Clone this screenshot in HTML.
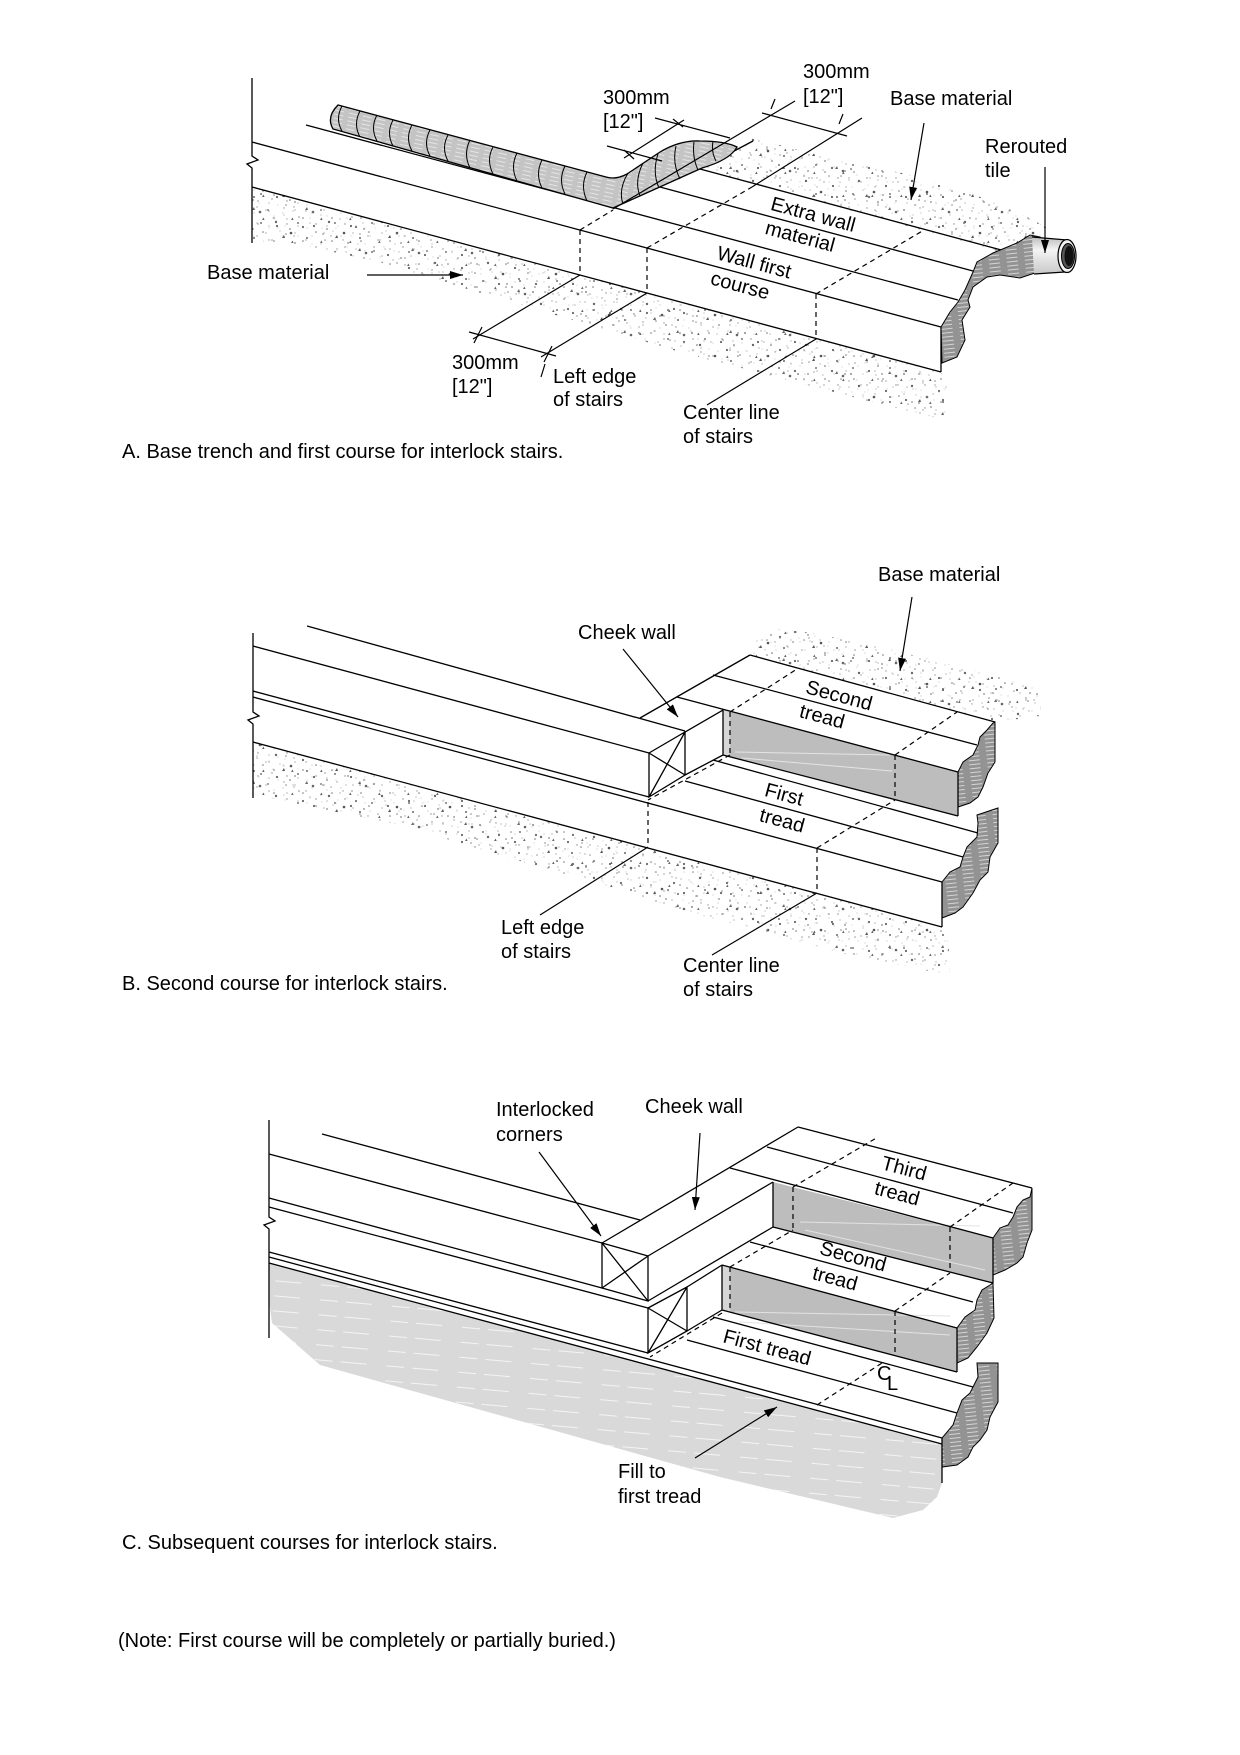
<!DOCTYPE html>
<html><head><meta charset="utf-8">
<style>
html,body{margin:0;padding:0;background:#fff;}
svg{display:block;}
text{font-family:"Liberation Sans",Arial,sans-serif;font-size:20px;fill:#000;}
</style></head><body>
<svg width="1240" height="1755" viewBox="0 0 1240 1755" xmlns="http://www.w3.org/2000/svg">
<defs>
<pattern id="g1" width="53" height="41" patternUnits="userSpaceOnUse">
<circle cx="3" cy="5" r="0.9" fill="#666"/><circle cx="11" cy="17" r="1.2" fill="#666"/>
<circle cx="19" cy="3" r="0.7" fill="#999"/><circle cx="26" cy="28" r="1.3" fill="#555"/>
<circle cx="34" cy="12" r="0.8" fill="#888"/><circle cx="42" cy="33" r="1" fill="#666"/>
<circle cx="48" cy="7" r="1.3" fill="#666"/><circle cx="7" cy="35" r="0.8" fill="#999"/>
<circle cx="15" cy="26" r="0.6" fill="#aaa"/><circle cx="30" cy="38" r="0.9" fill="#888"/>
<circle cx="38" cy="22" r="1.1" fill="#666"/><circle cx="22" cy="14" r="0.7" fill="#aaa"/>
<circle cx="45" cy="18" r="0.6" fill="#999"/><circle cx="9" cy="11" r="0.5" fill="#aaa"/>
<circle cx="51" cy="27" r="0.8" fill="#777"/><circle cx="28" cy="6" r="0.6" fill="#999"/>
<circle cx="4" cy="23" r="0.5" fill="#bbb"/><circle cx="33" cy="31" r="0.5" fill="#bbb"/>
<circle cx="47" cy="39" r="0.5" fill="#bbb"/><circle cx="20" cy="21" r="0.5" fill="#bbb"/>
<path d="M17,33 l2,-3 l1,3z" fill="#555"/><path d="M40,5 l2,-3 l1,3z" fill="#666"/>
</pattern>
<pattern id="g2" width="37" height="29" patternUnits="userSpaceOnUse">
<circle cx="2" cy="20" r="1" fill="#777"/><circle cx="10" cy="8" r="0.7" fill="#999"/>
<circle cx="18" cy="23" r="1.1" fill="#666"/><circle cx="25" cy="12" r="0.6" fill="#aaa"/>
<circle cx="31" cy="26" r="0.9" fill="#888"/><circle cx="35" cy="4" r="0.7" fill="#999"/>
<circle cx="14" cy="15" r="0.5" fill="#aaa"/><circle cx="27" cy="2" r="0.8" fill="#888"/>
</pattern>
<pattern id="g3" width="29" height="23" patternUnits="userSpaceOnUse">
<circle cx="5" cy="3" r="0.6" fill="#888"/><circle cx="13" cy="11" r="0.8" fill="#777"/>
<circle cx="22" cy="6" r="0.5" fill="#999"/><circle cx="26" cy="17" r="0.7" fill="#888"/>
<circle cx="8" cy="19" r="0.6" fill="#999"/><circle cx="17" cy="21" r="0.5" fill="#aaa"/>
<path d="M1,13 l1.5,-2.5 l1,2.5z" fill="#666"/>
</pattern>
<pattern id="st" width="18" height="4" patternUnits="userSpaceOnUse" patternTransform="rotate(-6)">
<rect width="18" height="4" fill="#939393"/><line x1="2" y1="2" x2="13" y2="2" stroke="#dcdcdc" stroke-width="0.9"/>
</pattern>
<pattern id="tp" width="14" height="4" patternUnits="userSpaceOnUse" patternTransform="rotate(12)">
<rect width="14" height="4" fill="#c4c4c4"/><line x1="1" y1="2" x2="10" y2="2" stroke="#ededed" stroke-width="0.8"/>
</pattern>
<pattern id="fp" width="72" height="15" patternUnits="userSpaceOnUse" patternTransform="rotate(5)">
<rect width="72" height="15" fill="#d9d9d9"/>
<line x1="0" y1="7" x2="18" y2="7" stroke="#f4f4f4" stroke-width="1"/>
<line x1="26" y1="7" x2="52" y2="7" stroke="#f4f4f4" stroke-width="1"/>
</pattern>
<linearGradient id="pg" x1="0" y1="0" x2="0" y2="1">
<stop offset="0" stop-color="#bdbdbd"/><stop offset="0.35" stop-color="#f4f4f4"/><stop offset="1" stop-color="#c8c8c8"/>
</linearGradient>
<marker id="ah" viewBox="0 0 13 8" refX="13" refY="4" markerWidth="13" markerHeight="8" markerUnits="userSpaceOnUse" orient="auto">
<path d="M0,0 L13,4 L0,8 z" fill="#000"/>
</marker>
</defs>

<!-- ================= A ================= -->
<g>
<polygon points="252,187 941,372 947,385 945,420 880,404 780,378 680,352 580,322 480,293 380,262 300,245 252,240" fill="url(#g1)"/>
<polygon points="252,187 941,372 947,385 945,420 880,404 780,378 680,352 580,322 480,293 380,262 300,245 252,240" fill="url(#g2)"/>
<polygon points="252,187 941,372 947,385 945,420 880,404 780,378 680,352 580,322 480,293 380,262 300,245 252,240" fill="url(#g3)"/>
<polygon points="700,169 722,155 750,138 800,150 840,161 907,174 973,194 1030,218 1047,228 1040,237 1030,237 1005,253" fill="url(#g1)"/>
<polygon points="700,169 722,155 750,138 800,150 840,161 907,174 973,194 1030,218 1047,228 1040,237 1030,237 1005,253" fill="url(#g2)"/>
<polygon points="700,169 722,155 750,138 800,150 840,161 907,174 973,194 1030,218 1047,228 1040,237 1030,237 1005,253" fill="url(#g3)"/>
</g>
<g stroke="#000" stroke-width="1.3" fill="none">
<path d="M252,78 V156 L258,160 L247,164 L252,168 V243"/>
<path d="M252,142 L941,327 M252,187 L941,372 M306,125 L958,300 M645,183 L973,271 M700,169 L1005,251 M702,168 L753,141 M941,327 V372"/>
</g>
<!-- tile -->
<path d="M338,105 L606,177 Q616,180 627,174 L660,152 Q680,140 700,141 Q725,141 737,147 Q730,160 702,168 L613,208 L333,129 Q326,117 338,105 Z" fill="url(#tp)" stroke="#000" stroke-width="1.3"/>
<g stroke="#000" stroke-width="1" fill="none">
<path d="M342,106 Q335,119 342,131 M360,111 Q353,124 360,137 M377,115 Q370,128 377,141 M393,120 Q386,133 393,146 M412,125 Q405,138 412,151 M430,130 Q423,143 430,156 M448,135 Q441,148 448,161 M470,140 Q463,154 470,168 M493,147 Q486,160 493,174 M517,153 Q510,167 517,181 M542,160 Q535,174 542,188 M565,166 Q558,180 565,194 M587,172 Q580,186 587,201"/>
<path d="M628,173 Q618,190 623,204 M643,163 Q634,181 640,196 M658,154 Q652,172 659,188 M676,146 Q672,163 680,179 M694,142 Q692,157 698,170 M713,141 Q711,152 716,161"/>
</g>
<!-- wavy cut A -->
<polygon points="941,327 950,312 958,302 965,290 973,272 977,262 993,253 1017,243 1030,235 1040,237 1037,262 1035,273 1020,278 1000,275 987,277 973,287 968,300 970,307 962,320 965,340 957,357 942,363" fill="url(#st)" stroke="#000" stroke-width="1"/>
<!-- pipe -->
<path d="M1032,237 L1067,240 L1065,272 L1034,274 Z" fill="url(#pg)" stroke="none"/>
<path d="M1032,237 L1067,240 M1034,274 L1065,272" stroke="#000" stroke-width="1.2" fill="none"/>
<ellipse cx="1067" cy="256" rx="9" ry="16.5" fill="#f2f2f2" stroke="#000" stroke-width="1.2"/>
<ellipse cx="1068" cy="256" rx="6.5" ry="12.5" fill="#555" stroke="#000" stroke-width="1"/>
<ellipse cx="1069" cy="256" rx="4.5" ry="10" fill="#111"/>
<!-- dims & dashed A -->
<g stroke="#000" stroke-width="1.2" fill="none">
<path stroke-dasharray="5,4" d="M580,230 V275 M647,248 V293 M816,294 V339 M580,230 L613,210 M647,248 L752,187 M816,294 L924,230"/>
<path d="M613,209 L795,101 M752,187 L862,118 M580,275 L473,339 M647,293 L541,357 M816,339 L707,405"/>
<path d="M469,332 L556,356 M474,343 L482,327 M544,362 L552,346 M541,377 L545,364"/>
<path d="M607,146 L662,161 M655,118 L730,138 M624,158 L684,120 M624,150 L634,159 M673,119 L683,127"/>
<path d="M762,113 L847,136 M771,109 L775,99 M839,124 L843,114"/>
</g>
<g stroke="#000" stroke-width="1.2" fill="none" marker-end="url(#ah)">
<line x1="367" y1="275" x2="463" y2="275"/>
<line x1="924" y1="123" x2="911" y2="200"/>
<line x1="1045" y1="167" x2="1045" y2="253"/>
</g>
<text x="603" y="104">300mm</text><text x="603" y="128">[12"]</text>
<text x="803" y="78">300mm</text><text x="803" y="103">[12"]</text>
<text x="890" y="105">Base material</text>
<text x="985" y="153">Rerouted</text><text x="985" y="177">tile</text>
<text x="207" y="279">Base material</text>
<text x="452" y="369">300mm</text><text x="452" y="393">[12"]</text>
<text x="553" y="383">Left edge</text><text x="553" y="406">of stairs</text>
<text x="683" y="419">Center line</text><text x="683" y="443">of stairs</text>
<text transform="rotate(15 813 215)" x="813" y="215" text-anchor="middle" dominant-baseline="central">Extra wall</text>
<text transform="rotate(15 800 237)" x="800" y="237" text-anchor="middle" dominant-baseline="central">material</text>
<text transform="rotate(15 754 263)" x="754" y="263" text-anchor="middle" dominant-baseline="central">Wall first</text>
<text transform="rotate(15 740 286)" x="740" y="286" text-anchor="middle" dominant-baseline="central">course</text>
<text x="122" y="458">A. Base trench and first course for interlock stairs.</text>

<!-- ================= B ================= -->
<g>
<polygon points="253,742 942,927 948,935 950,975 850,955 700,915 550,870 400,825 253,795" fill="url(#g1)"/>
<polygon points="253,742 942,927 948,935 950,975 850,955 700,915 550,870 400,825 253,795" fill="url(#g2)"/>
<polygon points="253,742 942,927 948,935 950,975 850,955 700,915 550,870 400,825 253,795" fill="url(#g3)"/>
<polygon points="750,655 995,722 1040,716 1042,690 1000,676 940,662 873,645 783,628 755,640" fill="url(#g1)"/>
<polygon points="750,655 995,722 1040,716 1042,690 1000,676 940,662 873,645 783,628 755,640" fill="url(#g2)"/>
<polygon points="750,655 995,722 1040,716 1042,690 1000,676 940,662 873,645 783,628 755,640" fill="url(#g3)"/>
</g>
<polygon points="723,710 958,772 958,816 723,755" fill="#bdbdbd"/>
<polygon points="723,710 730,712 730,757 723,755" fill="#d6d6d6"/>
<path d="M735,752 L890,755 M742,758 L892,771" stroke="#e4e4e4" stroke-width="1" fill="none"/>
<polygon points="995,722 995,762 988,773 983,787 978,797 970,803 958,807 958,772 963,762 973,755 978,745 980,737 987,730 993,723" fill="url(#st)" stroke="#000" stroke-width="1"/>
<polygon points="977,815 998,808 998,843 990,857 988,872 980,880 973,893 963,907 955,913 942,918 942,882 950,872 960,867 963,857 967,847 977,837 978,823" fill="url(#st)" stroke="#000" stroke-width="1"/>
<g stroke="#000" stroke-width="1.3" fill="none">
<path d="M253,633 V712 L259,716 L248,720 L253,724 V798"/>
<path d="M307,626 L685,731 M253,646 L649,753 M253,691 L649,797 M253,697 L942,882 M253,742 L942,927"/>
<path d="M649,753 L685,732 L685,775 L649,797 Z M649,753 L685,775 M649,797 L685,732"/>
<path d="M640,718 L750,655 M685,732 L723,710 M750,655 L995,722 M713,675 L977,745 M677,697 L958,772"/>
<path d="M723,710 V755 M723,755 L958,816 M958,772 V816 M685,775 L723,755 M713,760 L978,833 M685,781 L963,857 M942,882 V927"/>
</g>
<g stroke="#000" stroke-width="1.2" fill="none">
<path stroke-dasharray="5,4" d="M730,712 V755 M895,755 V800 M730,755 L648,800 M648,802 V847 M817,848 V893 M817,848 L895,800 M895,755 L957,712 M730,712 L797,669"/>
<path d="M648,847 L540,915 M817,893 L712,955"/>
</g>
<g stroke="#000" stroke-width="1.2" fill="none" marker-end="url(#ah)">
<line x1="623" y1="649" x2="678" y2="717"/>
<line x1="912" y1="597" x2="900" y2="671"/>
</g>
<text x="578" y="639">Cheek wall</text>
<text x="878" y="581">Base material</text>
<text x="501" y="934">Left edge</text><text x="501" y="958">of stairs</text>
<text x="683" y="972">Center line</text><text x="683" y="996">of stairs</text>
<text transform="rotate(15 839 696)" x="839" y="696" text-anchor="middle" dominant-baseline="central">Second</text>
<text transform="rotate(15 822 717)" x="822" y="717" text-anchor="middle" dominant-baseline="central">tread</text>
<text transform="rotate(15 784 795)" x="784" y="795" text-anchor="middle" dominant-baseline="central">First</text>
<text transform="rotate(15 782 821)" x="782" y="821" text-anchor="middle" dominant-baseline="central">tread</text>
<text x="122" y="990">B. Second course for interlock stairs.</text>

<!-- ================= C ================= -->
<polygon points="269,1263 942,1444 942,1483 937,1497 923,1510 893,1518 720,1477 320,1365 272,1323 269,1300" fill="url(#fp)"/>
<polygon points="773,1182 993,1238 993,1283 773,1227" fill="#bdbdbd"/>
<path d="M800,1222 L980,1226 M805,1230 L985,1270" stroke="#e2e2e2" stroke-width="1" fill="none"/>
<polygon points="722,1265 957,1328 957,1372 722,1310" fill="#bdbdbd"/>
<polygon points="722,1265 730,1267 730,1312 722,1310" fill="#d6d6d6"/>
<path d="M735,1312 L950,1316 M740,1322 L950,1335" stroke="#e2e2e2" stroke-width="1" fill="none"/>
<polygon points="1032,1188 1032,1230 1027,1243 1023,1257 1017,1263 1005,1270 993,1275 993,1238 1000,1228 1008,1225 1013,1217 1017,1207 1023,1200 1030,1197" fill="url(#st)" stroke="#000" stroke-width="1"/>
<polygon points="993,1283 994,1318 987,1333 977,1347 968,1358 957,1363 957,1328 965,1317 975,1310 977,1300 982,1290 990,1285" fill="url(#st)" stroke="#000" stroke-width="1"/>
<polygon points="977,1363 998,1363 998,1402 990,1417 987,1430 980,1440 973,1447 968,1457 957,1465 942,1467 942,1438 953,1425 957,1413 962,1400 970,1393 973,1387 978,1377" fill="url(#st)" stroke="#000" stroke-width="1"/>
<g stroke="#000" stroke-width="1.3" fill="none">
<path d="M269,1120 V1217 L275,1221 L264,1225 L269,1229 V1338"/>
<path d="M322,1134 L640,1220 M269,1154 L602,1243 M269,1198 L602,1288 M269,1207 L648,1308 M269,1252 L648,1353 M269,1257 L942,1438 M269,1263 L942,1444"/>
<path d="M602,1243 L648,1256 L648,1301 L602,1288 Z M602,1243 L648,1301 M602,1288 L648,1256"/>
<path d="M648,1308 L687,1287 L687,1331 L648,1353 Z M648,1308 L687,1331 M648,1353 L687,1287"/>
<path d="M602,1243 L798,1127 M648,1256 L773,1182 M648,1301 L773,1227 M798,1127 L1032,1188 M767,1147 L1013,1213 M730,1168 L993,1238"/>
<path d="M773,1182 V1227 M993,1238 V1283 M773,1227 L993,1283 M750,1242 L973,1302 M687,1287 L722,1265 M722,1265 L957,1328 M722,1265 V1310 M957,1328 V1372 M722,1310 L957,1372 M687,1331 L722,1310 M713,1317 L973,1387 M687,1340 L957,1413 M942,1438 V1483"/>
</g>
<g stroke="#000" stroke-width="1.2" fill="none">
<path stroke-dasharray="5,4" d="M793,1187 V1232 M950,1227 V1272 M793,1187 L878,1137 M950,1227 L1013,1183 M730,1267 V1310 M895,1311 V1356 M730,1267 L793,1230 M895,1311 L950,1273 M722,1313 L650,1357 M817,1405 L882,1363"/>
</g>
<g stroke="#000" stroke-width="1.2" fill="none" marker-end="url(#ah)">
<line x1="539" y1="1152" x2="601" y2="1236"/>
<line x1="700" y1="1133" x2="695" y2="1210"/>
<line x1="695" y1="1458" x2="777" y2="1407"/>
</g>
<text x="496" y="1116">Interlocked</text><text x="496" y="1141">corners</text>
<text x="645" y="1113">Cheek wall</text>
<text x="618" y="1478">Fill to</text><text x="618" y="1503">first tread</text>
<text x="877" y="1380" font-size="18">C</text><text x="887" y="1390" font-size="16">L</text>
<text transform="rotate(15 904 1169)" x="904" y="1169" text-anchor="middle" dominant-baseline="central">Third</text>
<text transform="rotate(15 897 1194)" x="897" y="1194" text-anchor="middle" dominant-baseline="central">tread</text>
<text transform="rotate(15 853 1257)" x="853" y="1257" text-anchor="middle" dominant-baseline="central">Second</text>
<text transform="rotate(15 835 1279)" x="835" y="1279" text-anchor="middle" dominant-baseline="central">tread</text>
<text transform="rotate(15 767 1348)" x="767" y="1348" text-anchor="middle" dominant-baseline="central">First tread</text>
<text x="122" y="1549">C. Subsequent courses for interlock stairs.</text>

<text x="118" y="1647">(Note: First course will be completely or partially buried.)</text>
</svg>
</body></html>
